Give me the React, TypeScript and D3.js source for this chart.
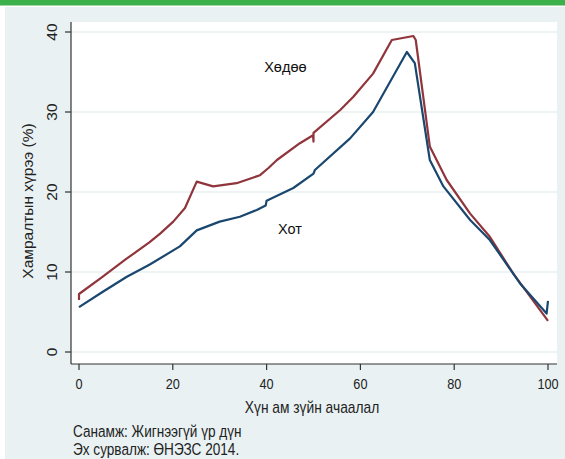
import React from "react";
import * as d3 from "d3";

const yTicks = [0, 10, 20, 30, 40];
const xTicks = [0, 20, 40, 60, 80, 100];

// Хөдөө (rural)
const ruralX = [0, 0, 5, 10, 15, 17.3, 20.1, 22.6, 25.1, 28.6, 33.6, 38.6, 40.4, 42.2, 47.1, 49.9, 50, 50, 55.7, 58.5, 62.7, 66.7, 71.3, 71.8, 74.8, 78.4, 83.4, 87.6, 92.6, 100];
const ruralY = [6.5, 7.25, 9.4, 11.6, 13.7, 14.8, 16.3, 18.0, 21.3, 20.7, 21.1, 22.1, 23.0, 24.0, 26.1, 27.1, 26.3, 27.4, 30.25, 31.9, 34.8, 39.0, 39.5, 39.0, 25.7, 21.5, 17.3, 14.4, 9.8, 3.9];

// Хот (urban)
const urbanX = [0, 5, 10.2, 15, 21.5, 25.1, 30, 34.3, 37.9, 39.8, 40, 45.7, 50, 50.3, 57.8, 62.7, 69.9, 71.6, 74.8, 77.7, 83.4, 87.6, 94, 99.7, 100];
const urbanY = [5.6, 7.5, 9.4, 10.9, 13.2, 15.2, 16.3, 16.9, 17.75, 18.3, 18.9, 20.5, 22.3, 22.75, 26.7, 30.0, 37.5, 36.1, 24.0, 20.7, 16.5, 14.0, 8.6, 4.8, 6.4];

const seriesLabels = ["Хөдөө", "Хот"];
const labelPos = [[44, 35.0], [45, 14.7]];

export default function App() {
  const W = 565, H = 459;
  const x = d3.scaleLinear().domain([0, 100]).range([79, 548]);
  const y = d3.scaleLinear().domain([0, 40]).range([352, 32]);
  const line = d3.line<[number, number]>().x(d => x(d[0])).y(d => y(d[1]));
  const rural = ruralX.map((v, i) => [v, ruralY[i]] as [number, number]);
  const urban = urbanX.map((v, i) => [v, urbanY[i]] as [number, number]);
  const reg = "'Liberation Sans', Arial, sans-serif";
  const sx = 0.82;
  return (
    <svg width={W} height={H} style={{ position: "absolute", left: 0, top: 0, background: "#fff" }}>
      <rect x={0} y={0} width={W} height={5.5} fill="#3cb04b" />
      <rect x={5} y={7} width={W - 5} height={H - 7} fill="#e9f1f3" />
      <rect x={71} y={22} width={486} height={342} fill="#ffffff" />
      {yTicks.map(t => (
        <line key={"g" + t} x1={71} x2={557} y1={y(t)} y2={y(t)} stroke="#e8eff0" strokeWidth={1.5} />
      ))}
      <line x1={71} x2={71} y1={22} y2={364} stroke="#333" strokeWidth={1.2} />
      <line x1={71} x2={557} y1={364} y2={364} stroke="#333" strokeWidth={1.2} />
      {yTicks.map(t => (
        <g key={"yt" + t}>
          <line x1={65} x2={71} y1={y(t)} y2={y(t)} stroke="#333" strokeWidth={1.2} />
          <text transform={`translate(57,${y(t)}) rotate(-90)`} textAnchor="middle" fontFamily={reg} fontSize={15.5} fill="#222">{t}</text>
        </g>
      ))}
      {xTicks.map(t => (
        <g key={"xt" + t}>
          <line x1={x(t)} x2={x(t)} y1={364} y2={370} stroke="#333" strokeWidth={1.2} />
          <text transform={`translate(${x(t)},389) scale(${sx},1)`} textAnchor="middle" fontFamily={reg} fontSize={15.5} fill="#222">{t}</text>
        </g>
      ))}
      <text transform={`translate(33,201) rotate(-90)`} textAnchor="middle" fontFamily={reg} fontSize={15.5} fill="#222">Хамралтын хүрээ (%)</text>
      <text transform={`translate(312,413) scale(${sx},1)`} textAnchor="middle" fontFamily={reg} fontSize={16.8} fill="#222">Хүн ам зүйн ачаалал</text>
      <path d={line(rural) || ""} fill="none" stroke="#90353b" strokeWidth={2.2} strokeLinejoin="round" />
      <path d={line(urban) || ""} fill="none" stroke="#1a476f" strokeWidth={2.2} strokeLinejoin="round" />
      {seriesLabels.map((s, i) => (
        <text key={s} x={x(labelPos[i][0])} y={y(labelPos[i][1])} textAnchor="middle" fontFamily={reg} fontSize={14.5} fill="#111">{s}</text>
      ))}
      <text transform={`translate(73,437) scale(${sx},1)`} fontFamily={reg} fontSize={16.6} fill="#222">Санамж: Жигнээгүй үр дүн</text>
      <text transform={`translate(73,455) scale(${sx},1)`} fontFamily={reg} fontSize={16.6} fill="#222">Эх сурвалж: ӨНЭЗС 2014.</text>
    </svg>
  );
}
